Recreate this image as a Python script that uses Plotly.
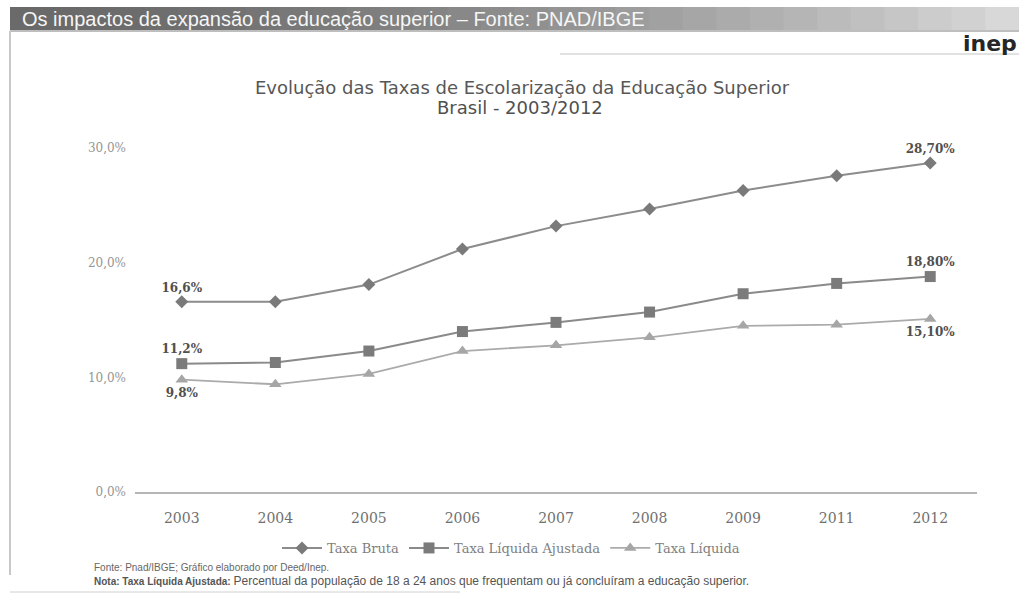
import plotly.graph_objects as go

# ---- data ----
anos = ["2003", "2004", "2005", "2006", "2007", "2008", "2009", "2011", "2012"]
taxa_bruta = [16.6, 16.6, 18.1, 21.2, 23.2, 24.7, 26.3, 27.6, 28.7]
taxa_liq_ajustada = [11.2, 11.3, 12.3, 14.0, 14.8, 15.7, 17.3, 18.2, 18.8]
taxa_liquida = [9.8, 9.4, 10.3, 12.3, 12.8, 13.5, 14.5, 14.6, 15.1]
y_ticks = [0, 10, 20, 30]
y_tick_labels = ["0,0%", "10,0%", "20,0%", "30,0%"]

# ---- layout geometry (pixels of the plotting area) ----
W, H = 1019, 599
PX_L, PX_R = 135, 977
PY_T, PY_B = 131, 492


def px(x):
    return (x - PX_L) / (PX_R - PX_L)


def py(y):
    return (PY_B - y) / (PY_B - PY_T)


def end_labels(vals):
    t = [""] * len(vals)
    t[0] = f"{vals[0]:.1f}%".replace(".", ",")
    t[-1] = f"{vals[-1]:.2f}%".replace(".", ",")
    return t


lbl_font = dict(family="DejaVu Serif", size=12, color="#505050", weight="bold")

fig = go.Figure()
fig.add_trace(go.Scatter(
    x=anos, y=taxa_bruta, name="Taxa Bruta", mode="lines+markers+text",
    line=dict(color="#8c8c8c", width=2),
    marker=dict(symbol="diamond", size=10, color="#7a7a7a"),
    text=end_labels(taxa_bruta), textposition="top center", textfont=lbl_font,
))
fig.add_trace(go.Scatter(
    x=anos, y=taxa_liq_ajustada, name="Taxa Líquida Ajustada", mode="lines+markers+text",
    line=dict(color="#8a8a8a", width=2),
    marker=dict(symbol="square", size=11, color="#7b7b7b"),
    text=end_labels(taxa_liq_ajustada), textposition="top center", textfont=lbl_font,
))
fig.add_trace(go.Scatter(
    x=anos, y=taxa_liquida, name="Taxa Líquida", mode="lines+markers+text",
    line=dict(color="#ababab", width=1.8),
    marker=dict(symbol="triangle-up", size=11, color="#a6a6a6"),
    text=end_labels(taxa_liquida), textposition="bottom center", textfont=lbl_font,
))

shapes = []
# header bar: grey gradient fading to the right
n = 30
x0p, x1p = 10, 1019
for i in range(n):
    a = x0p + (x1p - x0p) * i / n
    b = x0p + (x1p - x0p) * (i + 1) / n + 1
    f = i / (n - 1)
    g = int(0x6a + (0xd8 - 0x6a) * (f ** 1.6))
    col = f"#{g:02x}{g:02x}{g:02x}"
    shapes.append(dict(type="rect", xref="paper", yref="paper",
                       x0=px(a), x1=px(b), y0=py(30), y1=py(7),
                       fillcolor=col, line=dict(width=0), layer="below"))
shapes.append(dict(type="line", xref="paper", yref="paper",
                   x0=px(10), x1=px(1019), y0=py(31), y1=py(31),
                   line=dict(color="#a8a8a8", width=1.5)))
shapes.append(dict(type="line", xref="paper", yref="paper",
                   x0=px(560), x1=px(1019), y0=py(54), y1=py(54),
                   line=dict(color="#c4c4c4", width=1)))
# left page border and bottom rule
shapes.append(dict(type="line", xref="paper", yref="paper",
                   x0=px(10), x1=px(10), y0=py(31), y1=py(575),
                   line=dict(color="#c8c8c8", width=2)))
shapes.append(dict(type="line", xref="paper", yref="paper",
                   x0=px(10), x1=px(460), y0=py(592), y1=py(592),
                   line=dict(color="#d0d0d0", width=1)))

annotations = [
    dict(text="Os impactos da expansão da educação superior – Fonte: PNAD/IBGE",
         x=px(20), y=py(19), xref="paper", yref="paper", xanchor="left", yanchor="middle",
         showarrow=False, font=dict(family="Liberation Sans", size=20, color="#f6f6f6")),
    dict(text="<b>inep</b>", x=px(1019), y=py(43), xref="paper", yref="paper",
         xanchor="right", yanchor="middle", showarrow=False,
         font=dict(family="DejaVu Sans", size=22, color="#262626")),
    dict(text="Evolução das Taxas de Escolarização da Educação Superior",
         x=px(522), y=py(87), xref="paper", yref="paper", xanchor="center", yanchor="middle",
         showarrow=False, font=dict(family="DejaVu Sans", size=18, color="#575757")),
    dict(text="Brasil - 2003/2012",
         x=px(520), y=py(108), xref="paper", yref="paper", xanchor="center", yanchor="middle",
         showarrow=False, font=dict(family="DejaVu Sans", size=18, color="#505050")),
    dict(text="Fonte: Pnad/IBGE; Gráfico elaborado por Deed/Inep.",
         x=px(92), y=py(567), xref="paper", yref="paper", xanchor="left", yanchor="middle",
         showarrow=False, font=dict(family="Liberation Sans", size=10, color="#666666")),
    dict(text="<b>Nota: Taxa Líquida Ajustada:</b> <span style='font-size:12px'>Percentual da população de 18 a 24 anos que frequentam ou já concluíram a educação superior.</span>",
         x=px(92), y=py(581), xref="paper", yref="paper", xanchor="left", yanchor="middle",
         showarrow=False, font=dict(family="Liberation Sans", size=10, color="#555555")),
]

fig.update_layout(
    width=W, height=H,
    margin=dict(l=PX_L, r=W - PX_R, t=PY_T, b=H - PY_B),
    paper_bgcolor="#ffffff", plot_bgcolor="#ffffff",
    shapes=shapes, annotations=annotations,
    showlegend=True,
    legend=dict(orientation="h", x=px(511), y=py(548), xanchor="center", yanchor="middle",
                font=dict(family="DejaVu Serif", size=13, color="#808080"),
                bgcolor="rgba(0,0,0,0)", itemwidth=40),
    xaxis=dict(type="category", range=[-0.5, 8.5], showgrid=False, zeroline=False,
               showline=True, linecolor="#b5b5b5", linewidth=1.5, ticks="",
               ticklabelstandoff=12,
               tickfont=dict(family="DejaVu Serif", size=14, color="#707070")),
    yaxis=dict(range=[0, 31.5], tickvals=y_ticks, ticktext=y_tick_labels,
               showgrid=False, zeroline=False, showline=False, ticks="",
               ticklabelstandoff=8,
               tickfont=dict(family="DejaVu Serif", size=12, color="#959595")),
)

fig.write_html("out.html", config={"displayModeBar": False},
               post_script="document.body.style.margin='0';")
